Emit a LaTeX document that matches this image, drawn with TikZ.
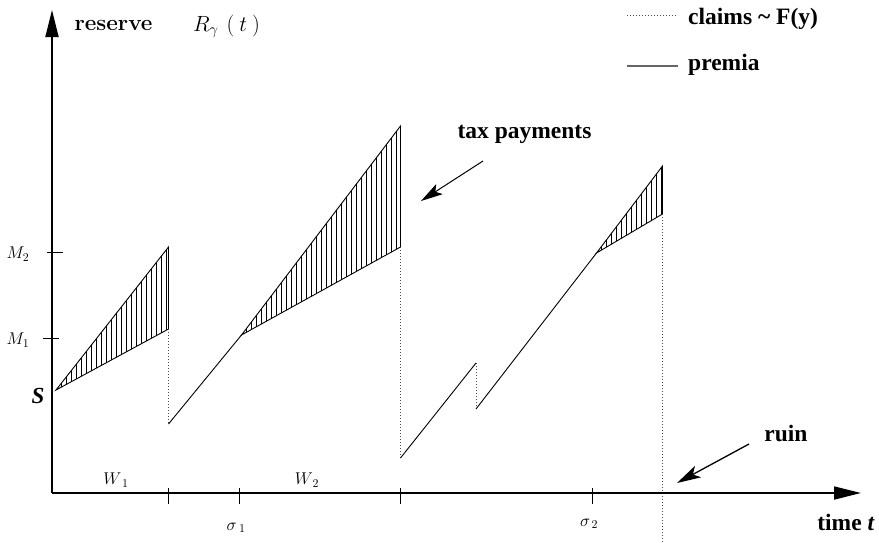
\RequirePackage{fix-cm}
\documentclass[tikz,border=0pt]{standalone}
\usepackage{fontspec}
\newfontfamily\tnr{Liberation Serif}
\usetikzlibrary{arrows.meta}
\begin{document}
\begin{tikzpicture}[x=1pt,y={(0pt,-1pt)},
  axis/.style={line width=1.8pt,-{Triangle[length=27pt,width=13pt]}},
  prem/.style={line width=0.9pt},
  claim/.style={line width=0.9pt,dash pattern=on 1pt off 2pt,black!70},
  hatchline/.style={line width=0.7pt},
  tickmark/.style={line width=1pt},
  pointer/.style={line width=1.3pt,-{Stealth[length=24pt,width=13pt,inset=6pt]}},
  smallpointer/.style={line width=1pt,-{Stealth[length=22pt,width=12pt,inset=5pt]}},
  lbl/.style={font=\tnr\bfseries\fontsize{23.5}{28}\selectfont,inner sep=0pt},
  mth/.style={inner sep=0pt}]
\useasboundingbox (0,0) rectangle (879,542);
% coordinates
\coordinate (O) at (52,493);
\coordinate (Ytip) at (52,10);
\coordinate (Xtip) at (861,493);
\coordinate (A0) at (56,390);
\coordinate (A1) at (168.5,329);
\coordinate (A2) at (168.5,247);
\coordinate (A3) at (168.5,424);
\coordinate (B0) at (241.5,335);
\coordinate (B1) at (400.5,247);
\coordinate (B2) at (400.5,126);
\coordinate (B3) at (400.5,458);
\coordinate (C1) at (476,363);
\coordinate (C2) at (476,409);
\coordinate (D0) at (596.5,253);
\coordinate (D1) at (662.5,214);
\coordinate (D2) at (662.5,166);
\coordinate (D3) at (662.5,542);
% hatching
\begin{scope}
  \clip (A0) -- (A2) -- (A1) -- cycle;
  \foreach \x in {56,61,...,171} \draw[hatchline] (\x,200) -- (\x,400);
\end{scope}
\begin{scope}
  \clip (B0) -- (B2) -- (B1) -- cycle;
  \foreach \x in {241.5,246.5,...,402} \draw[hatchline] (\x,100) -- (\x,350);
\end{scope}
\begin{scope}
  \clip (D0) -- (D2) -- (D1) -- cycle;
  \foreach \x in {596.5,601.5,...,664} \draw[hatchline] (\x,150) -- (\x,260);
\end{scope}
% reserve path
\draw[prem] (A0) -- (A2) -- (A1) -- cycle;
\draw[claim] (A1) -- (A3);
\draw[prem] (A3) -- (B0);
\draw[prem] (B0) -- (B2) -- (B1) -- cycle;
\draw[claim] (B1) -- (B3);
\draw[prem] (B3) -- (C1);
\draw[claim] (C1) -- (C2);
\draw[prem] (C2) -- (D0);
\draw[prem] (D0) -- (D2) -- (D1) -- cycle;
\draw[claim] (D1) -- (D3);
% axes
\draw[axis] (O) -- (Ytip);
\draw[axis] (O) -- (Xtip);
% ticks
\foreach \x/\n in {168.5/t1,239/t2,400.5/t3,592/t4}{
  \coordinate (\n a) at (\x,488);
  \coordinate (\n b) at (\x,504);
  \draw[tickmark] (\n a) -- (\n b);
}
\coordinate (m2a) at (47,252); \coordinate (m2b) at (63,252);
\coordinate (m1a) at (43,338); \coordinate (m1b) at (59,338);
\draw[tickmark] (m2a) -- (m2b);
\draw[tickmark] (m1a) -- (m1b);
% labels
\node[inner sep=0pt,font=\fontsize{22.5}{27}\selectfont\bfseries] (res) at (113.5,25) {reserve};
\node[mth,font=\fontsize{22}{26}\selectfont] (R) at (226.5,26) {$R_{\gamma}\hspace{8pt}(\hspace{5pt}t\hspace{5pt})$};
\node[mth,font=\fontsize{17}{20}\selectfont] (M2) at (18,254) {$M_2$};
\node[mth,font=\fontsize{17}{20}\selectfont] (M1) at (18,340) {$M_1$};
\node[inner sep=0pt,font=\tnr\bfseries\itshape\fontsize{23}{28}\selectfont] (S) at (38,396) {S};
\node[mth,font=\fontsize{17}{20}\selectfont] (W1) at (116,480) {$W_{\hspace{3pt}1}$};
\node[mth,font=\fontsize{17}{20}\selectfont] (W2) at (307,480) {$W_{\hspace{2pt}2}$};
\node[mth,font=\fontsize{17}{20}\selectfont] (s1) at (236,528) {$\sigma_{\hspace{3pt}1}$};
\node[mth,font=\fontsize{17}{20}\selectfont] (s2) at (589,524) {$\sigma_{\hspace{2pt}2}$};
\node[lbl] (tax) at (524.5,134) {tax payments};
\node[lbl] (ruin) at (786,433) {ruin};
\node[lbl] (time) at (846,522) {time \textit{t}};
% legend
\coordinate (L1a) at (627,15); \coordinate (L1b) at (678,15);
\coordinate (L2a) at (627,66); \coordinate (L2b) at (678,66);
\draw[claim] (L1a) -- (L1b);
\draw[line width=1.1pt,black!60] (L2a) -- (L2b);
\node[lbl,anchor=west] (claims) at (688,19) {claims \textasciitilde\ F(y)};
\node[lbl,anchor=west] (premia) at (688,65) {premia};
% pointers
\coordinate (tp0) at (483,161); \coordinate (tp1) at (421,201);
\coordinate (rp0) at (749,444); \coordinate (rp1) at (677,483);
\draw[smallpointer] (tp0) -- (tp1);
\draw[pointer] (rp0) -- (rp1);
\end{tikzpicture}
\end{document}
